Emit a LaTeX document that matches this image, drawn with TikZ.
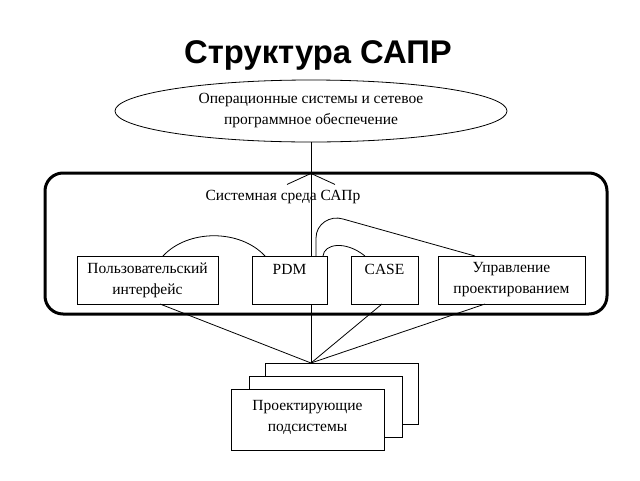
\documentclass[tikz,border=0pt]{standalone}
\usepackage{fontspec}
\setmainfont{Liberation Serif}
\newfontfamily\headfont{Liberation Sans}
\usetikzlibrary{arrows.meta, positioning, shapes.geometric}

\begin{document}
\begin{tikzpicture}[
    x=1pt, y=-1pt,
    line width=0.8pt,
    every node/.style={font=\fontsize{15.5}{21}\selectfont},
    block/.style={draw, rectangle, fill=white, align=center, inner sep=0pt, outer sep=0pt, minimum height=48pt},
    subbox/.style={draw, rectangle, fill=white, align=center, inner sep=0pt, outer sep=0pt, minimum width=153pt, minimum height=61pt}
]
\useasboundingbox (0,0) rectangle (640,480);

% title
\node[font=\headfont\bfseries\fontsize{32.8}{38}\selectfont, anchor=base] (title) at (318,63) {Структура САПР};

% os ellipse
\node[draw, ellipse, minimum width=392pt, minimum height=62pt, inner sep=0pt, align=center] (os) at (311,111) {Операционные системы и сетевое\\программное обеспечение};

% system environment
\node[draw, line width=3pt, rounded corners=18pt, minimum width=562pt, minimum height=141pt, outer sep=0pt] (env) at (326,243.5) {};
\node (envlabel) at (283,197) {Системная среда САПр};

% subsystems stack
\node[subbox] (subs3) at (341.5,393.5) {};
\node[subbox] (subs2) at ([shift={(-16,13.5)}]subs3) {};
\node[subbox, text depth=8pt] (subs1) at ([shift={(-18,13)}]subs2) {Проектирующие\\подсистемы};
\coordinate (hub) at ([xshift=46pt]subs3.north west);

% central axis
\draw (os.south) -- (hub);
\draw[-{Straight Barb[length=11pt, width=48pt]}] (hub) -- (os.south |- env.north);

% modules
\node[block, minimum width=141pt] (ui) at (147.5,280) {Пользовательский\\интерфейс};
\node[block, minimum width=75pt, right=34pt of ui] (pdm) {PDM\\\mbox{}};
\node[block, minimum width=67pt, right=24pt of pdm] (case) {CASE\\\mbox{}};
\node[block, minimum width=147pt, right=20pt of case] (mgmt) {Управление\\проектированием};

% links between modules
\draw ([xshift=15.5pt]ui.north) .. controls +(25,-27) and +(-25,-27) .. ([xshift=-24.5pt]pdm.north);
\draw ([xshift=26.5pt]pdm.north) -- ++(0,-18) .. controls +(0,-14) and +(-13,-4) .. ++(27,-19) -- ([xshift=-36.5pt]mgmt.north);
\draw ([xshift=33.5pt]pdm.north) .. controls +(1,-12) and +(-20,-16) .. ([xshift=-19.5pt]case.north);

% links to subsystems
\draw ([xshift=12.5pt]ui.south) -- (hub);
\draw ([xshift=-2.5pt]case.south) -- (hub);
\draw ([xshift=-26.5pt]mgmt.south) -- (hub);

\end{tikzpicture}
\end{document}
